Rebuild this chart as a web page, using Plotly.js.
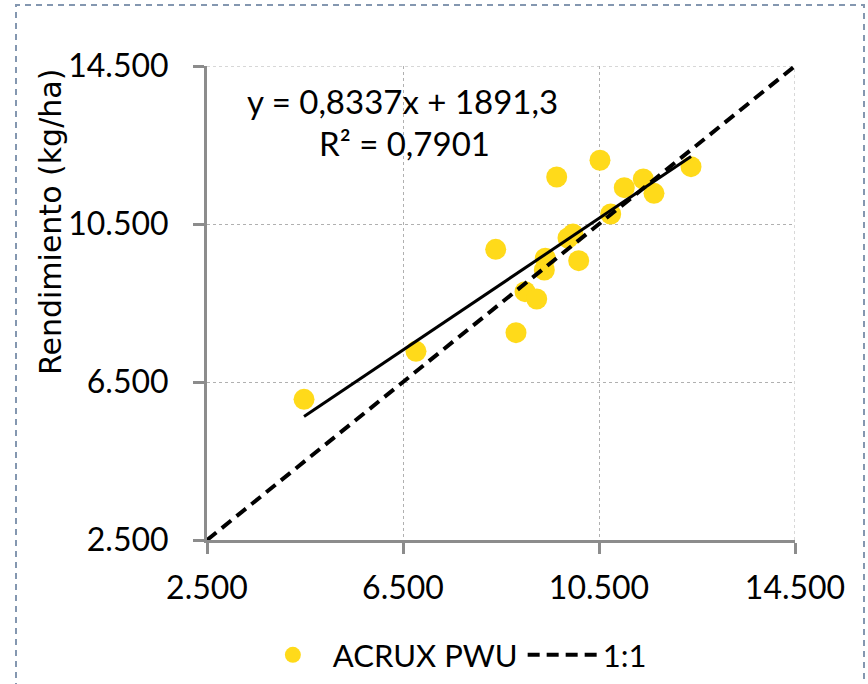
<!DOCTYPE html>
<html>
<head>
<meta charset="utf-8">
<script src="https://cdn.plot.ly/plotly-3.0.1.min.js"></script>
<style>html,body{margin:0;padding:0;background:#fff;}#chart{width:868px;height:684px;}</style>
</head>
<body>
<div id="chart"></div>
<script>
// Observed (x) vs. yield (y), kg/ha
var obsX = [4480, 6765, 8806, 8392, 8990, 9229, 9384, 9404, 9637, 9867, 9969, 10086, 10520, 10739, 11016, 11404, 11622, 12378];
var obsY = [6062, 7277, 7748, 9859, 8786, 8601, 9335, 9632, 11690, 10146, 10247, 9571, 12113, 10753, 11419, 11639, 11277, 11951];
var seriesName = "ACRUX PWU";
var oneToOneName = "1:1";
var oneToOneX = [2500, 14500];
var oneToOneY = [2500, 14500];
var trendSlope = 0.8337;
var trendIntercept = 1891.3;
var trendX = [Math.min.apply(null, obsX), Math.max.apply(null, obsX)];
var trendY = trendX.map(function (v) { return trendSlope * v + trendIntercept; });
var tickVals = [2500, 6500, 10500, 14500];
var tickText = ["2.500", "6.500", "10.500", "14.500"];
var yTitle = "Rendimiento (kg/ha)";
var eqText = "y = 0,8337x + 1891,3";
var r2Text = "R² = 0,7901";

var FONT = "Lato, 'Liberation Sans', sans-serif";
var AX_MAX = tickVals[tickVals.length - 1];

var traces = [
  {
    x: obsX, y: obsY, type: "scatter", mode: "markers", name: seriesName,
    marker: {color: "#FFDA1A", size: 21, line: {width: 0}},
    cliponaxis: false
  },
  {
    x: oneToOneX, y: oneToOneY, type: "scatter", mode: "lines", name: oneToOneName,
    line: {color: "#000", width: 4, dash: "12px,7px"},
    cliponaxis: false
  },
  {
    x: trendX, y: trendY, type: "scatter", mode: "lines", showlegend: false,
    line: {color: "#000", width: 3}
  }
];

var axisCommon = {
  range: [2500, 14500],
  tickvals: tickVals,
  ticktext: tickText,
  showline: true,
  linecolor: "#8c8c8c",
  linewidth: 3,
  ticks: "outside",
  ticklen: 11,
  tickwidth: 3,
  tickcolor: "#8c8c8c",
  showgrid: true,
  gridcolor: "#b0b0b0",
  gridwidth: 1,
  griddash: "dot",
  zeroline: false,
  tickfont: {family: FONT, size: 32, color: "#000"},
  fixedrange: true
};

var layout = {
  width: 868, height: 684,
  margin: {l: 207, r: 73, t: 66, b: 144, autoexpand: false},
  paper_bgcolor: "#fff",
  plot_bgcolor: "#fff",
  showlegend: true,
  xaxis: Object.assign({}, axisCommon, {ticklabelstandoff: 7, automargin: false}),
  yaxis: Object.assign({}, axisCommon, {ticklabelstandoff: 18, automargin: false}),
  legend: {
    orientation: "h",
    x: 0.078, y: -0.186, xanchor: "left", yanchor: "top",
    font: {family: FONT, size: 31, color: "#000"},
    itemwidth: 70,
    bgcolor: "rgba(0,0,0,0)",
    tracegroupgap: 0
  },
  annotations: [
    {text: yTitle, textangle: -90, xref: "paper", yref: "paper",
     x: (50 - 207) / 588, y: (540 - 222) / 474, xanchor: "center", yanchor: "middle", showarrow: false,
     font: {family: "'DejaVu Sans', sans-serif", size: 30, color: "#000"}},
    {text: eqText, xref: "paper", yref: "paper",
     x: (402 - 207) / 588, y: (540 - 101) / 474, xanchor: "center", yanchor: "middle", showarrow: false,
     font: {family: FONT, size: 33, color: "#000"}},
    {text: r2Text, xref: "paper", yref: "paper",
     x: (404 - 207) / 588, y: (540 - 143) / 474, xanchor: "center", yanchor: "middle", showarrow: false,
     font: {family: FONT, size: 33, color: "#000"}}
  ],
  shapes: [
    {type: "rect", xref: "paper", yref: "paper",
     x0: (16 - 207) / 588, x1: (864 - 207) / 588,
     y0: (540 - 700) / 474, y1: (540 - 5) / 474,
     line: {color: "#8497b0", width: 2, dash: "6px,5px"}, fillcolor: "rgba(0,0,0,0)", layer: "below"},
    {type: "line", xref: "paper", yref: "y", x0: 0, x1: 1, y0: AX_MAX, y1: AX_MAX,
     line: {color: "#b0b0b0", width: 1, dash: "dot"}, layer: "below"},
    {type: "line", xref: "x", yref: "paper", x0: AX_MAX, x1: AX_MAX, y0: 0, y1: 1,
     line: {color: "#b0b0b0", width: 1, dash: "dot"}, layer: "below"}
  ]
};

Plotly.newPlot("chart", traces, layout, {displayModeBar: false, staticPlot: true});
</script>
</body>
</html>
